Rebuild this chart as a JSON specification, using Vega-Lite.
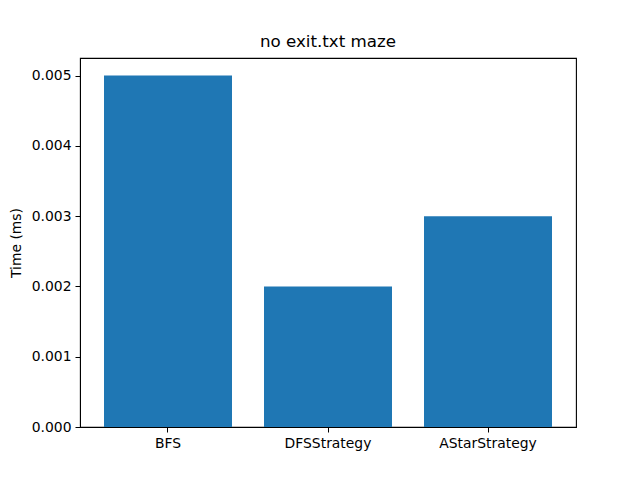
{
  "$schema": "https://vega.github.io/schema/vega-lite/v6.json",
  "width": 496,
  "height": 369,
  "autosize": "none",
  "padding": {"left": 80, "top": 58, "right": 64, "bottom": 53},
  "background": "white",
  "title": {"text": "no exit.txt maze", "font": "DejaVu Sans", "fontSize": 16.7, "fontWeight": "normal", "color": "black", "offset": 7},
  "config": {
    "view": {"stroke": "black", "strokeWidth": 1.1},
    "axis": {
      "labelFont": "DejaVu Sans",
      "labelFontSize": 13.9,
      "labelColor": "black",
      "titleFont": "DejaVu Sans",
      "titleFontSize": 13.9,
      "titleFontWeight": "normal",
      "titleColor": "black",
      "domainColor": "black",
      "tickColor": "black",
      "tickSize": 5,
      "grid": false
    }
  },
  "data": {
    "values": [
      {"strategy": "BFS", "time": 0.005},
      {"strategy": "DFSStrategy", "time": 0.002},
      {"strategy": "AStarStrategy", "time": 0.003}
    ]
  },
  "mark": {"type": "bar", "color": "#1f77b4"},
  "encoding": {
    "x": {
      "field": "strategy",
      "type": "nominal",
      "sort": null,
      "title": null,
      "scale": {"paddingInner": 0.2, "paddingOuter": 0.15},
      "axis": {"labelAngle": 0, "labelPadding": 4}
    },
    "y": {
      "field": "time",
      "type": "quantitative",
      "title": "Time (ms)",
      "scale": {"domain": [0, 0.00525], "nice": false},
      "axis": {"values": [0, 0.001, 0.002, 0.003, 0.004, 0.005], "format": ".3f", "titlePadding": 8, "labelPadding": 4}
    }
  }
}
